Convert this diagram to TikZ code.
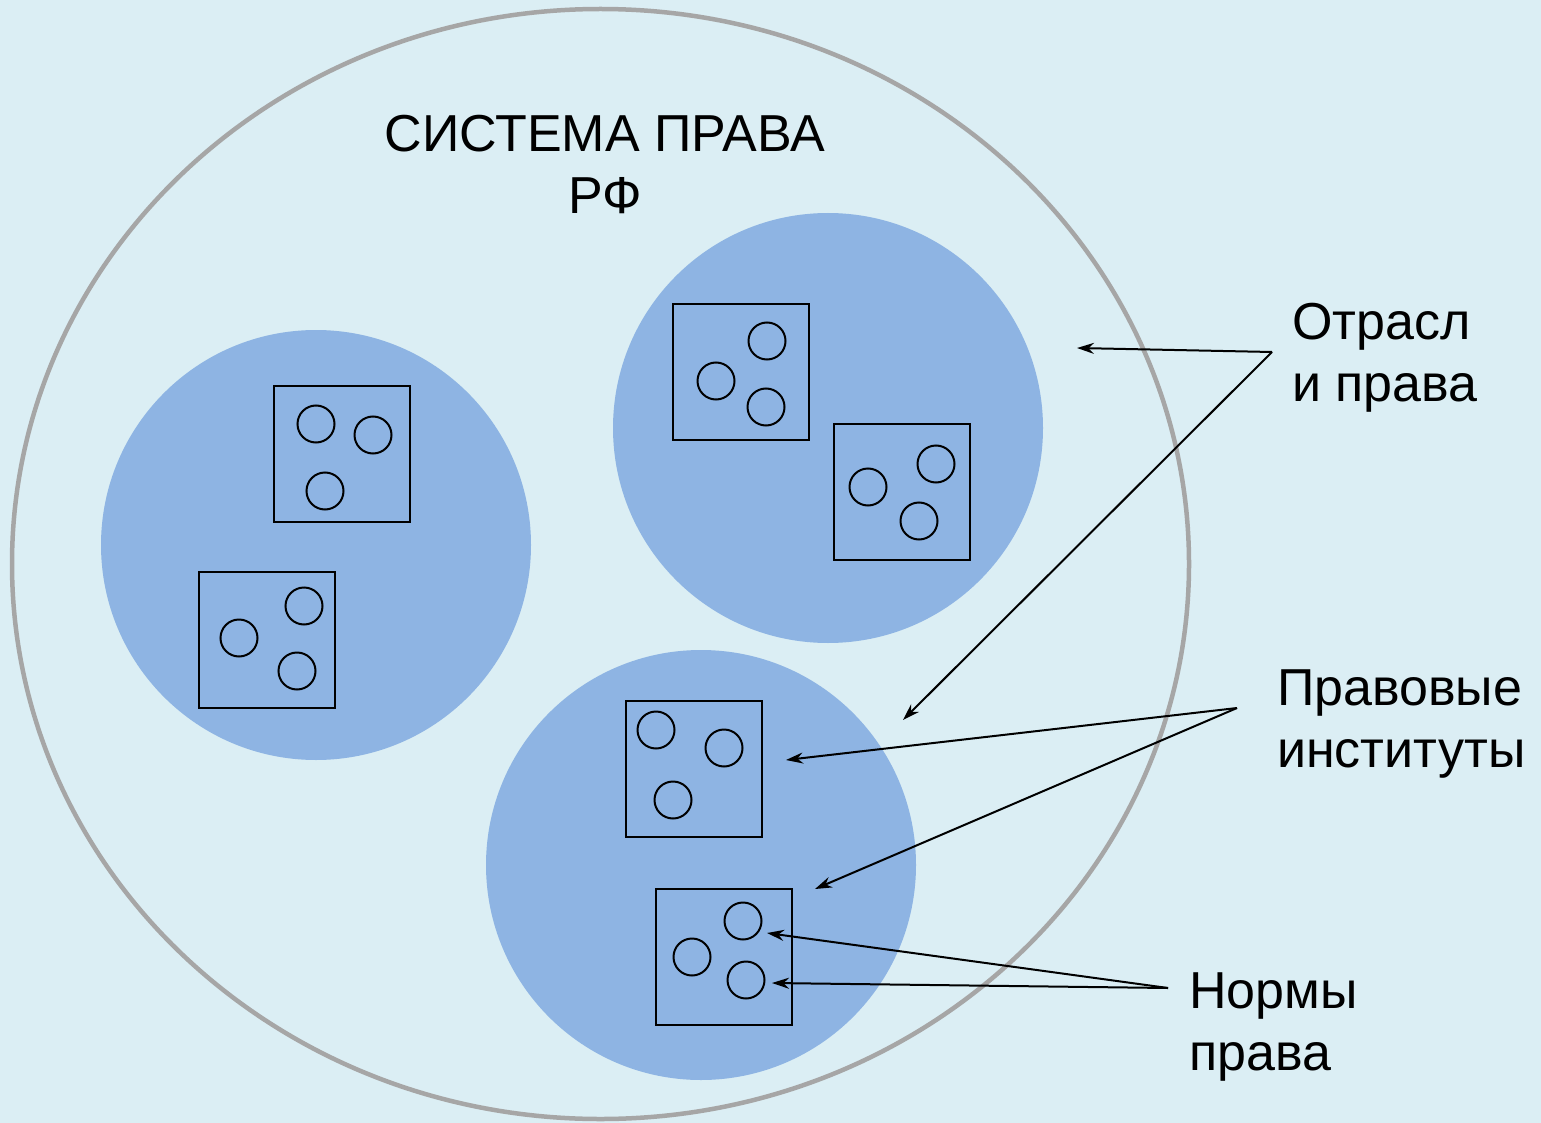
\documentclass[tikz,border=0pt]{standalone}
\usepackage{fontspec}
\setmainfont{Liberation Sans}
\usetikzlibrary{arrows.meta,shapes.geometric}
\definecolor{bgc}{HTML}{DBEEF4}
\definecolor{blobc}{HTML}{8EB4E3}
\definecolor{rimc}{HTML}{A6A6A6}
\tikzset{
  branch/.style={circle, fill=blobc, minimum size=430pt, inner sep=0pt},
  inst/.style={draw=black, line width=2pt, minimum size=136pt, inner sep=0pt},
  norm/.style={circle, draw=black, line width=2pt, minimum size=37pt, inner sep=0pt},
  lbl/.style={font=\fontsize{52pt}{62pt}\selectfont, inner sep=0pt, align=left, anchor=base west},
  pointer/.style={line width=2pt, -{Stealth[length=17pt,width=11pt]}}
}
\begin{document}
\begin{tikzpicture}[x=1pt,y=-1pt]
\useasboundingbox (0,0) rectangle (1541,1123);
\fill[bgc] (0,0) rectangle (1541,1123);
\node[ellipse, draw=rimc, line width=4.5pt, minimum width=1177pt, minimum height=1110pt, inner sep=0pt] (sys) at (600.5,564) {};
\node[font=\fontsize{52pt}{62pt}\selectfont, inner sep=0pt, align=center, anchor=base] (title) at (605,214) {СИСТЕМА ПРАВА\\РФ};
% branches
\node[branch] (b1) at (316,545) {};
\node[branch] (b2) at (828,428) {};
\node[branch] (b3) at (701,865) {};
% institutes
\node[inst] (i1) at (342,454) {};
\node[norm] (n11) at (316,424) {};
\node[norm] (n12) at (373,435) {};
\node[norm] (n13) at (325,491) {};
\node[inst] (i2) at (267,640) {};
\node[norm] (n21) at (304,606) {};
\node[norm] (n22) at (239,638) {};
\node[norm] (n23) at (297,671) {};
\node[inst] (i3) at (741,372) {};
\node[norm] (n31) at (767,341) {};
\node[norm] (n32) at (716,381) {};
\node[norm] (n33) at (766,407) {};
\node[inst] (i4) at (902,492) {};
\node[norm] (n41) at (936,464) {};
\node[norm] (n42) at (868,487) {};
\node[norm] (n43) at (919,521) {};
\node[inst] (i5) at (694,769) {};
\node[norm] (n51) at (656,730) {};
\node[norm] (n52) at (724,748) {};
\node[norm] (n53) at (673,800) {};
\node[inst] (i6) at (724,957) {};
\node[norm] (n61) at (743,921) {};
\node[norm] (n62) at (692,957) {};
\node[norm] (n63) at (746,980) {};
% labels
\node[lbl] (lo) at (1292,401) {Отрасл\\и права};
\node[lbl] (li) at (1277,767) {Правовые\\институты};
\node[lbl] (ln) at (1189,1070) {Нормы\\права};
% hubs and targets
\coordinate (h1) at (1272,352);
\coordinate (h2) at (1237,708);
\coordinate (h3) at (1168,988);
\coordinate (t11) at (1077,348);
\coordinate (t12) at (903,720);
\coordinate (t21) at (786,760);
\coordinate (t22) at (815,889);
\coordinate (t31) at (767,933);
\coordinate (t32) at (772,983);
\draw[pointer] (h1) -- (t11);
\draw[pointer] (h1) -- (t12);
\draw[pointer] (h2) -- (t21);
\draw[pointer] (h2) -- (t22);
\draw[pointer] (h3) -- (t31);
\draw[pointer] (h3) -- (t32);
\end{tikzpicture}
\end{document}
